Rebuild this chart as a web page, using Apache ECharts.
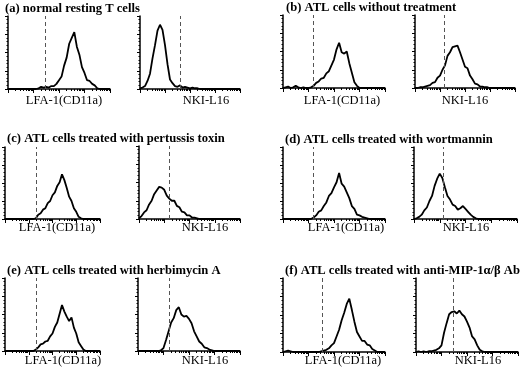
<!DOCTYPE html>
<html>
<head>
<meta charset="utf-8">
<script src="https://cdn.jsdelivr.net/npm/echarts@6/dist/echarts.min.js"></script>
<style>
  html, body { margin: 0; padding: 0; background: #fff; }
  #chart { width: 520px; height: 370px; }
</style>
</head>
<body>
<div id="chart"></div>
<script>
// fluorescence channel, log10 units (4 decades)
var logBins = [0.0, 0.1, 0.2, 0.3, 0.4, 0.5, 0.6, 0.7, 0.8, 0.9,
  1.0, 1.1, 1.2, 1.3, 1.4, 1.5, 1.6, 1.7, 1.8, 1.9,
  2.0, 2.1, 2.2, 2.3, 2.4, 2.5, 2.6, 2.7, 2.8, 2.9,
  3.0, 3.1, 3.2, 3.3, 3.4, 3.5, 3.6, 3.7, 3.8, 3.9, 4.0];

var panelTitles = [
  '(a) normal resting T cells',
  '(b) ATL cells without treatment',
  '(c) ATL cells treated with pertussis toxin',
  '(d) ATL cells treated with wortmannin',
  '(e) ATL cells treated with herbimycin A',
  '(f) ATL cells treated with anti-MIP-1\u03b1/\u03b2 Ab'
];
var markerNames = ['LFA-1(CD11a)', 'NKI-L16'];

// cell counts, % of the y axis
var aLfa = [0,0,0,0,0,0,0,0,0,0,0,0,1,3,2,3,2,4,4,7,12,17,32,43,62,70,78,58,47,30,22,12,11,7,5,1,0,0,0,0,0];
var aNki = [1,2,4,11,21,42,60,80,88,81,60,34,13,8,4,3,5,2,3,2,1,2,1,1,0,0,0,0,0,0,0,0,0,0,0,0,0,0,0,0,0];
var bLfa = [0,1,2,0,1,3,1,0,1,0,0,1,3,7,9,13,14,20,23,31,39,53,62,49,47,50,34,21,8,3,0,0,0,0,0,0,0,0,0,0,0];
var bNki = [0,0,1,1,2,3,4,7,8,14,17,25,31,44,49,56,57,58,49,39,29,27,17,12,6,5,2,2,1,1,0,0,0,0,0,0,0,0,0,0,0];
var cLfa = [0,0,0,0,0,0,0,0,0,0,0,0,0,1,6,8,13,15,22,25,33,37,46,51,62,54,43,31,25,15,10,3,1,0,0,0,0,0,0,0,0];
var cNki = [1,4,9,12,20,25,34,39,44,43,40,32,28,25,25,18,16,10,9,5,5,2,2,1,0,0,0,0,0,0,0,0,0,0,0,0,0,0,0,0,0];
var dLfa = [0,0,0,0,0,0,0,0,0,0,0,0,2,5,10,12,18,23,32,36,44,51,64,49,45,37,29,18,14,6,5,3,2,1,0,0,0,0,0,0,0];
var dNki = [0,1,3,6,12,16,25,32,46,56,63,57,44,32,27,20,18,13,15,18,14,10,6,3,1,0,0,0,0,0,0,0,0,0,0,0,0,0,0,0,0];
var eLfa = [0,0,0,0,0,0,0,0,0,0,0,0,0,2,5,9,10,13,14,20,24,33,39,51,63,54,47,41,46,32,24,12,7,2,0,0,0,0,0,0,0];
var eNki = [0,0,0,0,0,0,0,0,0,1,4,15,27,39,45,56,60,50,47,48,44,38,27,20,13,10,5,4,2,1,0,0,0,0,0,0,0,0,0,0,0];
var fLfa = [0,1,2,1,0,0,0,0,0,0,0,0,0,0,0,1,2,3,5,9,12,21,30,43,53,65,72,57,41,27,21,15,15,10,9,4,2,0,0,0,0];
var fNki = [0,1,0,1,0,1,1,2,3,5,9,26,39,51,54,55,52,56,51,48,41,33,21,17,9,3,1,0,0,0,0,0,0,0,0,0,0,0,0,0,0];

// negative-control cut-off, log10 units
var cutoffs = [1.45, 1.6, 1.18, 1.16, 1.3, 1.19, 1.18, 1.13, 1.3, 1.22, 1.53, 1.46];

var histograms = [aLfa, aNki, bLfa, bNki, cLfa, cNki, dLfa, dNki, eLfa, eNki, fLfa, fNki];

// layout of the 12 small plots
var boxes = [
  {left: 8, top: 16, width: 102, height: 73},
  {left: 140, top: 16, width: 100, height: 73},
  {left: 283, top: 15, width: 102, height: 73},
  {left: 415, top: 15, width: 100, height: 73},
  {left: 5, top: 147, width: 95, height: 72},
  {left: 139, top: 146, width: 101, height: 73},
  {left: 283, top: 147, width: 102, height: 72},
  {left: 414, top: 147, width: 103, height: 72},
  {left: 5, top: 278, width: 95, height: 73},
  {left: 138, top: 278, width: 102, height: 73},
  {left: 283, top: 278, width: 102, height: 74},
  {left: 416, top: 278, width: 102, height: 74}
];
var titlePos = [[5, 9], [286, 8], [7, 139], [285, 140], [7, 271], [285, 271]];
var namePos = [[64, 101], [206, 101], [342, 101], [465, 101],
  [57, 228], [205, 228], [346, 228], [466, 228],
  [63, 361], [205, 361], [343, 361], [478, 361]];

var logMinor = [];
for (var d = 0; d < 4; d++) {
  for (var k = 2; k < 10; k++) logMinor.push(d + Math.log10(k));
}

var chart = echarts.init(document.getElementById('chart'));
var grids = [], xAxes = [], yAxes = [], series = [], graphics = [];
var axisColor = '#000';

boxes.forEach(function (b, i) {
  grids.push({left: b.left, top: b.top, width: b.width, height: b.height});
  xAxes.push({
    gridIndex: i, type: 'value', min: 0, max: 4, position: 'bottom', offset: 0,
    axisLine: {lineStyle: {color: axisColor, width: 1.5}},
    axisTick: {show: true, customValues: logMinor, length: 2, lineStyle: {color: axisColor, width: 1}},
    axisLabel: {show: false}, splitLine: {show: false}
  });
  xAxes.push({
    gridIndex: i, type: 'value', min: 0, max: 4, interval: 1, position: 'bottom', offset: 0,
    axisLine: {show: false},
    axisTick: {show: true, length: 4, lineStyle: {color: axisColor, width: 1}},
    axisLabel: {show: false}, splitLine: {show: false}
  });
  yAxes.push({
    gridIndex: i, type: 'value', min: 0, max: 100, interval: 25,
    axisLine: {show: true, lineStyle: {color: axisColor, width: 1.5}},
    axisTick: {show: true, length: 3, lineStyle: {color: axisColor, width: 1}},
    minorTick: {show: true, splitNumber: 5, length: 1.5, lineStyle: {color: axisColor}},
    axisLabel: {show: false}, splitLine: {show: false}
  });
  series.push({
    type: 'line', xAxisIndex: 2 * i, yAxisIndex: i,
    data: logBins.map(function (x, j) { return [x, histograms[i][j]]; }),
    showSymbol: false, silent: true,
    lineStyle: {color: '#000', width: 1.8},
    markLine: {
      silent: true, symbol: ['none', 'none'], label: {show: false},
      lineStyle: {color: '#555', type: [4, 3], width: 1},
      data: [{xAxis: cutoffs[i]}]
    }
  });
  graphics.push({
    type: 'text', x: namePos[i][0], y: namePos[i][1],
    style: {text: markerNames[i % 2], font: '12.5px "Liberation Serif"', fill: '#000',
      textAlign: 'center', textVerticalAlign: 'middle'}
  });
});

panelTitles.forEach(function (t, i) {
  graphics.push({
    type: 'text', x: titlePos[i][0], y: titlePos[i][1],
    style: {text: t, font: 'bold 12.6px "Liberation Serif"', fill: '#000',
      textAlign: 'left', textVerticalAlign: 'middle'}
  });
});

chart.setOption({
  animation: false,
  backgroundColor: '#fff',
  grid: grids,
  xAxis: xAxes,
  yAxis: yAxes,
  series: series,
  graphic: graphics
});
</script>
</body>
</html>
